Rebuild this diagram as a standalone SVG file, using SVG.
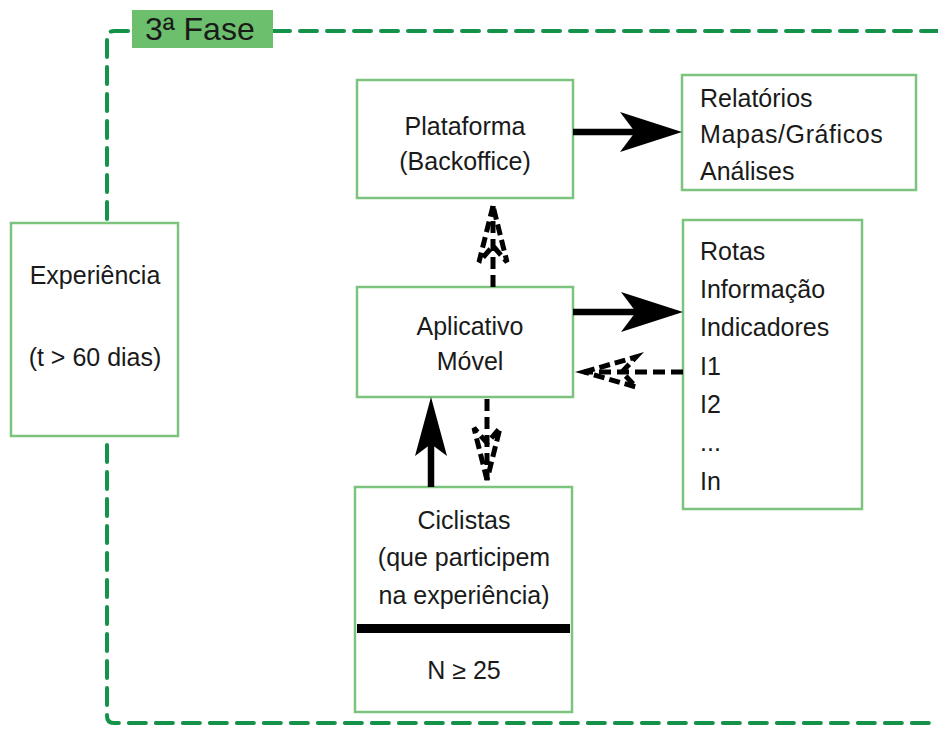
<svg xmlns="http://www.w3.org/2000/svg" width="938" height="729" viewBox="0 0 938 729">
  <style>
    .box { fill: #ffffff; stroke: #7cc47e; stroke-width: 2.5; }
    .t { font-family: "Liberation Sans", Arial, sans-serif; font-size: 25px; fill: #1a1a1a; }
    .c { text-anchor: middle; }
    .frame { fill: none; stroke: #14924a; stroke-width: 4; stroke-dasharray: 17 10; stroke-linecap: round; }
    .solid { stroke: #000; stroke-width: 6.5; fill: none; }
    .dash { stroke: #000; stroke-width: 5; fill: none; stroke-dasharray: 12 6; }
    .head { fill: #000; }
    .dhead { fill: none; stroke: #000; stroke-width: 5; stroke-dasharray: 11 5; stroke-linejoin: miter; }
  </style>

  <rect width="938" height="729" fill="#ffffff"/>

  <!-- dashed phase frame -->
  <path class="frame" d="M938 31 H114 Q107 31 107 38 V716 Q107 723 114 723 H938"/>

  <g id="phase-label">
    <rect x="132" y="10" width="141" height="38" fill="#6cbf6c"/>
    <text class="t" x="145" y="40" style="font-size:32px">3ª Fase</text>
  </g>

  <g id="experiencia">
    <rect class="box" x="11" y="223" width="167" height="213"/>
    <text class="t c" x="95" y="284">Experiência</text>
    <text class="t c" x="95" y="366">(t &gt; 60 dias)</text>
  </g>

  <g id="plataforma">
    <rect class="box" x="357" y="80" width="216" height="118"/>
    <text class="t c" x="465" y="135">Plataforma</text>
    <text class="t c" x="465" y="170">(Backoffice)</text>
  </g>

  <g id="relatorios">
    <rect class="box" x="682" y="75" width="234" height="115"/>
    <text class="t" x="700" y="107">Relatórios</text>
    <text class="t" x="700" y="143" letter-spacing="0.6">Mapas/Gráficos</text>
    <text class="t" x="700" y="180">Análises</text>
  </g>

  <g id="aplicativo">
    <rect class="box" x="357" y="287" width="216" height="110"/>
    <text class="t c" x="470" y="335">Aplicativo</text>
    <text class="t c" x="470" y="370">Móvel</text>
  </g>

  <g id="rotas">
    <rect class="box" x="683" y="220" width="179" height="289"/>
    <text class="t" x="700" y="260">Rotas</text>
    <text class="t" x="700" y="298">Informação</text>
    <text class="t" x="700" y="336">Indicadores</text>
    <text class="t" x="700" y="375">I1</text>
    <text class="t" x="700" y="413">I2</text>
    <text class="t" x="700" y="451">...</text>
    <text class="t" x="700" y="490">In</text>
  </g>

  <g id="ciclistas">
    <rect class="box" x="355" y="487" width="217" height="225"/>
    <text class="t c" x="464" y="529">Ciclistas</text>
    <text class="t c" x="464" y="566">(que participem</text>
    <text class="t c" x="464" y="604">na experiência)</text>
    <rect x="357" y="624" width="213" height="9" fill="#000"/>
    <text class="t c" x="464" y="679">N ≥ 25</text>
  </g>

  <g id="connectors">
    <!-- Plataforma to Relatórios -->
    <line class="solid" x1="573" y1="132" x2="640" y2="132"/>
    <path class="head" d="M682 132 L620 112 L635 132 L620 152 Z"/>

    <!-- Aplicativo to Rotas -->
    <line class="solid" x1="573" y1="312" x2="640" y2="312"/>
    <path class="head" d="M683 312 L621 292 L636 312 L621 332 Z"/>

    <!-- Ciclistas up to Aplicativo -->
    <line class="solid" x1="431" y1="487" x2="431" y2="440"/>
    <path class="head" d="M431 397 L415 456 L431 444 L447 456 Z"/>

    <!-- Aplicativo down to Ciclistas (dashed) -->
    <line class="dash" x1="487" y1="399" x2="487" y2="480"/>
    <path class="dhead" d="M487 480 L474 428 L487 443 L500 428 Z"/>

    <!-- Aplicativo up to Plataforma (dashed) -->
    <line class="dash" x1="493" y1="287" x2="493" y2="206"/>
    <path class="dhead" d="M493 206 L479 262 L493 246 L507 262 Z"/>

    <!-- Rotas back to Aplicativo (dashed) -->
    <line class="dash" x1="683" y1="372" x2="584" y2="372"/>
    <path class="dhead" d="M584 372 L636 357 L622 372 L636 387 Z"/>
  </g>
</svg>
